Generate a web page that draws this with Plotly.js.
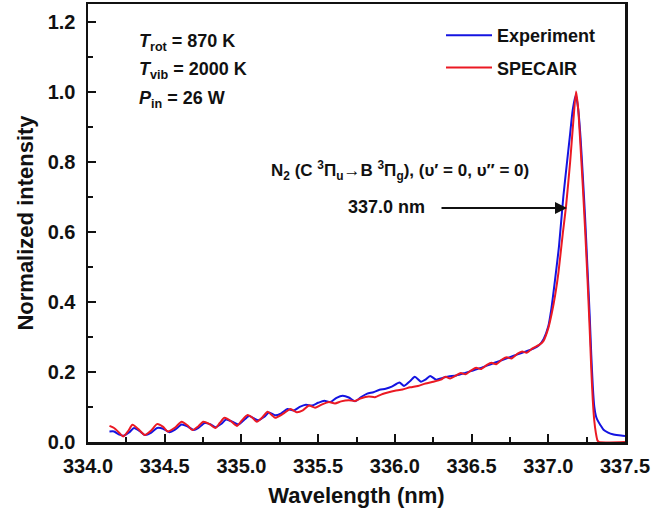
<!DOCTYPE html>
<html>
<head>
<meta charset="utf-8">
<script src="https://cdn.plot.ly/plotly-3.0.1.min.js"></script>
<style>html,body{margin:0;padding:0;background:#fff;}#chart{width:672px;height:513px;}</style>
</head>
<body>
<div id="chart"></div>
<script>
// Experiment (blue)
const expWavelength = [334.14,334.17,334.20,334.23,334.27,334.30,334.34,334.37,334.41,334.45,334.49,334.53,334.57,334.61,334.65,334.69,334.72,334.76,334.80,334.83,334.87,334.90,334.94,334.98,335.01,335.05,335.08,335.11,335.15,335.18,335.22,335.26,335.30,335.34,335.38,335.42,335.46,335.50,335.54,335.58,335.62,335.66,335.70,335.74,335.78,335.82,335.86,335.90,335.94,335.98,336.03,336.06,336.10,336.13,336.17,336.20,336.23,336.27,336.31,336.35,336.40,336.45,336.50,336.55,336.60,336.65,336.70,336.75,336.80,336.85,336.90,336.94,336.97,337.00,337.02,337.044,337.07,337.098,337.12,337.14,337.16,337.18,337.195,337.21,337.225,337.24,337.255,337.27,337.28,337.29,337.30,337.31,337.32,337.34,337.36,337.39,337.42,337.46,337.50];
const expIntensity = [0.030,0.030,0.022,0.018,0.028,0.040,0.030,0.020,0.026,0.040,0.038,0.028,0.036,0.050,0.044,0.034,0.040,0.054,0.050,0.042,0.052,0.064,0.058,0.050,0.060,0.074,0.068,0.062,0.072,0.084,0.076,0.082,0.094,0.090,0.100,0.106,0.104,0.112,0.118,0.114,0.126,0.132,0.127,0.116,0.128,0.138,0.142,0.149,0.152,0.158,0.170,0.160,0.174,0.186,0.172,0.178,0.188,0.178,0.183,0.187,0.190,0.196,0.203,0.210,0.218,0.226,0.234,0.242,0.250,0.258,0.266,0.276,0.294,0.330,0.380,0.463,0.560,0.700,0.790,0.870,0.950,0.990,0.950,0.870,0.760,0.640,0.500,0.360,0.250,0.160,0.100,0.075,0.063,0.048,0.035,0.027,0.022,0.019,0.017];

// SPECAIR simulation (red)
const simWavelength = [334.14,334.17,334.20,334.23,334.26,334.29,334.33,334.37,334.41,334.45,334.49,334.52,334.57,334.61,334.65,334.68,334.72,334.75,334.79,334.83,334.86,334.89,334.93,334.97,335.00,335.04,335.07,335.10,335.14,335.17,335.20,335.22,335.27,335.32,335.36,335.40,335.44,335.48,335.52,335.57,335.61,335.65,335.70,335.74,335.78,335.83,335.87,335.92,335.96,336.00,336.05,336.10,336.15,336.20,336.25,336.30,336.33,336.36,336.40,336.43,336.46,336.50,336.53,336.56,336.60,336.63,336.66,336.70,336.73,336.76,336.80,336.83,336.86,336.90,336.94,336.968,337.00,337.023,337.045,337.066,337.095,337.116,337.142,337.164,337.181,337.195,337.21,337.225,337.24,337.255,337.27,337.28,337.29,337.30,337.31,337.32,337.33,337.50];
const simIntensity = [0.046,0.040,0.028,0.016,0.030,0.049,0.036,0.020,0.032,0.051,0.043,0.030,0.042,0.058,0.047,0.034,0.045,0.058,0.052,0.040,0.055,0.069,0.060,0.046,0.060,0.077,0.070,0.058,0.072,0.086,0.076,0.069,0.080,0.094,0.085,0.090,0.104,0.098,0.106,0.114,0.110,0.116,0.119,0.117,0.125,0.130,0.128,0.137,0.142,0.146,0.150,0.156,0.160,0.167,0.172,0.178,0.186,0.181,0.190,0.197,0.193,0.205,0.212,0.208,0.220,0.226,0.222,0.236,0.242,0.238,0.252,0.258,0.255,0.268,0.277,0.288,0.325,0.368,0.420,0.483,0.597,0.674,0.797,0.920,1.000,0.950,0.844,0.730,0.606,0.470,0.320,0.210,0.120,0.060,0.026,0.005,0.000,0.000];

const seriesNames = ['Experiment', 'SPECAIR'];
const xTickVals = [334.0,334.5,335.0,335.5,336.0,336.5,337.0,337.5];
const yTickVals = [0.0,0.2,0.4,0.6,0.8,1.0,1.2];

const FONT = 'Arial, "Liberation Sans", sans-serif';

const traces = [
  {x: expWavelength, y: expIntensity, type: 'scatter', mode: 'lines', name: seriesNames[0],
   legendgroup: 'a', line: {color: 'rgb(20,20,225)', width: 2, shape: 'spline', smoothing: 0.6}},
  {x: simWavelength, y: simIntensity, type: 'scatter', mode: 'lines', name: seriesNames[1],
   legendgroup: 'b', line: {color: 'rgb(235,25,35)', width: 2, shape: 'spline', smoothing: 0.6}}
];

function px(xp){ return (xp - 88) / 537; }
function py(yp){ return (442 - yp) / 438; }

const layout = {
  width: 672, height: 513,
  margin: {l: 88, r: 47, t: 4, b: 71},
  paper_bgcolor: '#fff', plot_bgcolor: '#fff',
  font: {family: FONT, color: '#111'},
  showlegend: true,
  legend: {x: px(441), y: py(17), xanchor: 'left', yanchor: 'top', bgcolor: 'rgba(0,0,0,0)',
           font: {family: FONT, size: 18, weight: 'bold', color: '#111'},
           traceorder: 'grouped', tracegroupgap: 6, itemwidth: 46},
  xaxis: {
    range: [334.0, 337.5], tickvals: xTickVals, tickformat: '.1f',
    ticks: 'inside', ticklen: 8, tickwidth: 2, tickcolor: '#111',
    minor: {dtick: 0.25, tick0: 334.0, ticks: 'inside', ticklen: 5, tickwidth: 2, tickcolor: '#111'},
    showline: true, linewidth: 2.5, linecolor: '#111', mirror: true,
    showgrid: false, zeroline: false,
    tickfont: {family: FONT, size: 20, weight: 'bold', color: '#111'},
    ticklabelstandoff: 4,
    title: {text: 'Wavelength (nm)', font: {family: FONT, size: 22, weight: 'bold', color: '#111'}, standoff: 12}
  },
  yaxis: {
    range: [0, 1.25], tickvals: yTickVals, tickformat: '.1f',
    ticks: 'inside', ticklen: 8, tickwidth: 2, tickcolor: '#111',
    minor: {dtick: 0.1, tick0: 0, ticks: 'inside', ticklen: 5, tickwidth: 2, tickcolor: '#111'},
    showline: true, linewidth: 2.5, linecolor: '#111', mirror: true,
    showgrid: false, zeroline: false,
    tickfont: {family: FONT, size: 20, weight: 'bold', color: '#111'},
    ticklabelstandoff: 6,
    title: {text: 'Normalized intensity', font: {family: FONT, size: 22, weight: 'bold', color: '#111'}, standoff: 8}
  },
  annotations: [
    {xref: 'paper', yref: 'paper', x: px(137), y: py(42), xanchor: 'left', yanchor: 'middle', showarrow: false,
     text: '<b><i>T</i><sub>rot</sub> = 870 K</b>', font: {family: FONT, size: 18, color: '#111'}},
    {xref: 'paper', yref: 'paper', x: px(137), y: py(70), xanchor: 'left', yanchor: 'middle', showarrow: false,
     text: '<b><i>T</i><sub>vib</sub> = 2000 K</b>', font: {family: FONT, size: 18, color: '#111'}},
    {xref: 'paper', yref: 'paper', x: px(137), y: py(99), xanchor: 'left', yanchor: 'middle', showarrow: false,
     text: '<b><i>P</i><sub>in</sub> = 26 W</b>', font: {family: FONT, size: 18, color: '#111'}},
    {xref: 'paper', yref: 'paper', x: px(400), y: py(170), xanchor: 'center', yanchor: 'middle', showarrow: false,
     text: '<b>N<sub>2</sub> (C <sup>3</sup>Π<sub>u</sub>→B <sup>3</sup>Π<sub>g</sub>), (υ′ = 0, υ″ = 0)</b>',
     font: {family: FONT, size: 17, color: '#111'}},
    {xref: 'paper', yref: 'paper', x: px(386), y: py(207), xanchor: 'center', yanchor: 'middle', showarrow: false,
     text: '<b>337.0 nm</b>', font: {family: FONT, size: 18, color: '#111'}},
    {xref: 'paper', yref: 'paper', x: px(567), y: py(208), ax: -127, ay: 0, showarrow: true,
     arrowhead: 2, arrowsize: 1.2, arrowwidth: 2, arrowcolor: '#111', text: ''}
  ]
};

Plotly.newPlot('chart', traces, layout, {displayModeBar: false, staticPlot: true});
</script>
</body>
</html>
